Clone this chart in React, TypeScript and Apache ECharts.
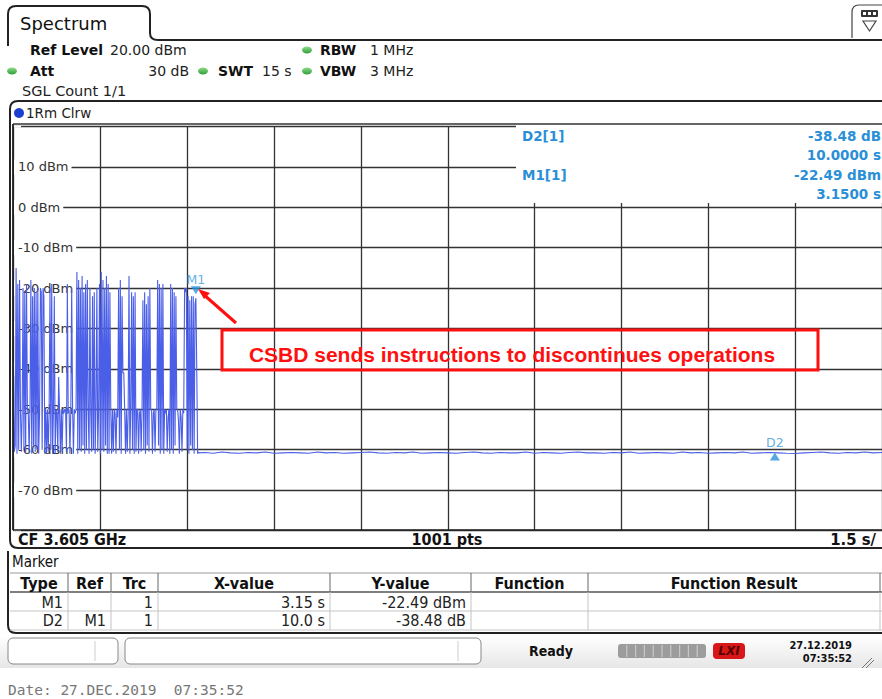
import React, { useEffect, useRef } from 'react';
import * as echarts from 'echarts';

// ---------------- data ----------------
const SWEEP_S = 15;
const SWEEP_PTS = 1001;
const DT = SWEEP_S / (SWEEP_PTS - 1);
const X_DIV = 1.5;
const Y_MIN = -80;
const Y_MAX = 20;
const Y_DIV = 10;

// trace samples 0..214 (0 s .. 3.21 s), dBm
const burstLevels = [
  -38, -60.5, -59,
  -15, -61, -19, -60, -18,
  -50, -60.5, -51,
  -20, -60, -21, -61, -19,
  -50, -51, -60.5, -50,
  -18, -61, -22, -59, -20, -60.5, -21,
  -60, -20, -61, -51,
  -20, -21, -60, -20, -22, -61,
  -50, -61, -50, -60.5, -51,
  -20, -60, -19, -61, -50, -22,
  -61, -50, -51, -60.5, -42, -50, -61, -50, -60.5, -50, -51,
  -50, -50, -60.5, -19, -51, -50, -61, -50, -20, -49, -61, -50, -51, -50,
  -16, -61, -18, -60, -20, -60.5, -17, -59, -21, -61, -19, -60,
  -18, -50, -61, -20, -51, -60.5,
  -22, -60, -21, -61, -50, -20, -60.5, -50,
  -19, -61, -16, -60, -18, -60.5, -20, -59, -17, -61, -19, -61, -21, -50,
  -61, -50, -60.5, -50, -51, -61, -50, -52,
  -20, -60, -18, -61, -22, -41,
  -41, -50, -61, -50, -60.5, -51,
  -17, -61, -50,
  -21, -60, -22, -61, -21, -60.5, -50,
  -50, -61, -51, -50, -60.5, -50,
  -23, -60, -21, -61, -24, -59, -22, -60.5, -20, -50,
  -50, -61, -51, -50, -60.5, -50, -50,
  -18, -59, -19, -61, -20, -60, -19, -61, -50, -51,
  -50, -60.5, -52, -50, -61,
  -19, -60, -20, -61, -21, -59, -22, -50,
  -50, -53, -61, -50, -52, -60.5, -50, -51,
  -20, -21, -20,
  -60, -22, -61, -23, -59, -22, -60, -22, -61, -24,
  -22.49,
  -40, -61, -60.6, -60.8,
];

// quiet part of the sweep, every 10th sample from sample 220 to 1000
const TAIL_START = 220;
const TAIL_STEP = 10;
const tailLevels = [
  -60.7, -60.9, -60.6, -60.8, -60.9, -60.7, -60.8, -60.6, -60.9, -60.8,
  -60.7, -60.8, -60.9, -60.6, -60.8, -60.7, -60.9, -60.8, -60.7, -60.6,
  -60.8, -60.9, -60.7, -60.8, -60.6, -60.9, -60.8, -60.7, -60.8, -60.9,
  -60.7, -60.6, -60.8, -60.9, -60.7, -60.8, -60.8, -60.6, -60.9, -60.7,
  -60.8, -60.9, -60.7, -60.6, -60.8, -60.8, -60.9, -60.7, -60.8, -60.6,
  -60.9, -60.8, -60.7, -60.8, -60.9, -60.6, -60.8, -60.7, -60.9, -60.8,
  -60.7, -60.8, -60.6, -60.9, -60.8, -60.7, -60.8, -60.9, -60.97, -60.8,
  -60.7, -60.6, -60.8, -60.9, -60.7, -60.8, -60.6, -60.8, -60.7,
];

const markerNames = ['M1', 'D2'];
const markerX = [3.15, 13.15];
const markerY = [-22.49, -60.97];

const readoutLabels = ['D2[1]', 'M1[1]'];
const readoutValues = [['-38.48 dB', '10.0000 s'], ['-22.49 dBm', '3.1500 s']];

const tableHeaders = ['Type', 'Ref', 'Trc', 'X-value', 'Y-value', 'Function', 'Function Result'];
const tableRows = [
  ['M1', '', '1', '3.15 s', '-22.49 dBm', '', ''],
  ['D2', 'M1', '1', '10.0 s', '-38.48 dB', '', ''],
];

const noteText = 'CSBD sends instructions to discontinues operations';

// ---------------- layout ----------------
const F = '"DejaVu Sans", Verdana, sans-serif';
const FC = '"DejaVu Sans Condensed", "DejaVu Sans", sans-serif';
const BLUE_TXT = '#2a8fd6';
const GRID = { left: 13.5, top: 126.6, width: 871.5, height: 403.8 };
const COLS = [10, 68, 111, 158, 330, 471, 588, 880];

echarts.graphic.registerShape(
  'tabShape',
  echarts.graphic.extendPath('M8,46 L8,14 Q8,6 16,6 L142,6 Q150,6 150,14 L150,33 Q150,40 158,40 L890,40', {})
);
echarts.graphic.registerShape(
  'traceWin',
  echarts.graphic.extendPath('M890,101 L18,101 Q10,101 10,109 L10,540 Q10,548 18,548 L890,548', {})
);
echarts.graphic.registerShape(
  'markerWin',
  echarts.graphic.extendPath('M8,551 L8,625 Q8,633 16,633 L890,633', {})
);
echarts.graphic.registerShape(
  'iconBox',
  echarts.graphic.extendPath('M852,38 L852,12 Q852,5 859,5 L890,5', {})
);

function txt(x: number, y: number, text: string, font: string, fill = '#111', align = 'left', z = 20): any {
  return {
    type: 'text',
    x,
    y,
    z,
    silent: true,
    style: { text, font, fill, textAlign: align, textVerticalAlign: 'middle' },
  };
}
function ln(x1: number, y1: number, x2: number, y2: number, stroke: string, lw = 1, z = 15): any {
  return { type: 'line', z, silent: true, shape: { x1, y1, x2, y2 }, style: { stroke, lineWidth: lw } };
}
function dot(cx: number, cy: number): any {
  return {
    type: 'ellipse',
    z: 20,
    silent: true,
    shape: { cx, cy, rx: 5, ry: 3.5 },
    style: {
      fill: new echarts.graphic.LinearGradient(0, 0, 0, 1, [
        { offset: 0, color: '#8fdc8a' },
        { offset: 1, color: '#2f9e3a' },
      ]),
    },
  };
}

function buildGraphics(): any[] {
  const g: any[] = [];
  // frames
  g.push({ type: 'tabShape', z: 15, silent: true, style: { fill: 'none', stroke: '#222', lineWidth: 2 } });
  g.push({ type: 'traceWin', z: 15, silent: true, style: { fill: 'none', stroke: '#222', lineWidth: 2 } });
  g.push({ type: 'markerWin', z: 15, silent: true, style: { fill: 'none', stroke: '#222', lineWidth: 2 } });
  g.push({ type: 'iconBox', z: 15, silent: true, style: { fill: 'none', stroke: '#444', lineWidth: 1.2 } });
  g.push({ type: 'rect', z: 16, silent: true, shape: { x: 861, y: 10, width: 17, height: 7, r: 1 }, style: { fill: '#333' } });
  g.push({ type: 'rect', z: 17, silent: true, shape: { x: 863, y: 12, width: 3, height: 3 }, style: { fill: '#fff' } });
  g.push({ type: 'rect', z: 17, silent: true, shape: { x: 868, y: 12, width: 3, height: 3 }, style: { fill: '#fff' } });
  g.push({ type: 'rect', z: 17, silent: true, shape: { x: 873, y: 12, width: 3, height: 3 }, style: { fill: '#fff' } });
  g.push({ type: 'polygon', z: 16, silent: true, shape: { points: [[863, 21], [876, 21], [869.5, 31]] }, style: { fill: 'none', stroke: '#444', lineWidth: 1.2 } });

  g.push(txt(20, 23, 'Spectrum', '18px ' + F, '#111'));

  // info rows
  g.push(txt(30, 50, 'Ref Level', 'bold 14px ' + F));
  g.push(txt(110, 50, '20.00 dBm', '14px ' + F, '#222'));
  g.push(dot(307, 50));
  g.push(txt(320, 50, 'RBW', 'bold 14px ' + F));
  g.push(txt(370, 50, '1 MHz', '14px ' + F, '#222'));
  g.push(dot(12, 71));
  g.push(txt(30, 71, 'Att', 'bold 14px ' + F));
  g.push(txt(189, 71, '30 dB', '14px ' + F, '#222', 'right'));
  g.push(dot(203, 71));
  g.push(txt(218, 71, 'SWT', 'bold 14px ' + F));
  g.push(txt(262, 71, '15 s', '14px ' + F, '#222'));
  g.push(dot(307, 71));
  g.push(txt(320, 71, 'VBW', 'bold 14px ' + F));
  g.push(txt(370, 71, '3 MHz', '14px ' + F, '#222'));
  g.push(txt(22, 91, 'SGL Count 1/1', '14.5px ' + F, '#222'));

  // trace header
  g.push({ type: 'circle', z: 20, silent: true, shape: { cx: 19, cy: 113, r: 5 }, style: { fill: '#1d3fd0' } });
  g.push(txt(26, 113, '1Rm Clrw', '13.5px ' + F, '#222'));
  g.push(ln(13, 124, 890, 124, '#333', 1.5));
  g.push(ln(13, 124, 13, 530, '#222', 1.8));
  g.push(ln(13, 530, 890, 530, '#222', 1.5));

  // marker readout box
  g.push({ type: 'rect', z: 12, silent: true, shape: { x: 516, y: 125, width: 370, height: 78 }, style: { fill: '#fff' } });
  g.push(txt(522, 136, readoutLabels[0], 'bold 13.5px ' + F, BLUE_TXT));
  g.push(txt(881, 136, readoutValues[0][0], 'bold 13.5px ' + F, BLUE_TXT, 'right'));
  g.push(txt(881, 155, readoutValues[0][1], 'bold 13.5px ' + F, BLUE_TXT, 'right'));
  g.push(txt(522, 175, readoutLabels[1], 'bold 13.5px ' + F, BLUE_TXT));
  g.push(txt(881, 175, readoutValues[1][0], 'bold 13.5px ' + F, BLUE_TXT, 'right'));
  g.push(txt(881, 194, readoutValues[1][1], 'bold 13.5px ' + F, BLUE_TXT, 'right'));

  // annotation
  g.push(ln(236, 323, 203, 294, '#ff1010', 3, 25));
  g.push({ type: 'polygon', z: 25, silent: true, shape: { points: [[198, 289], [210, 293], [204, 299]] }, style: { fill: '#ff1010' } });
  g.push({ type: 'rect', z: 25, silent: true, shape: { x: 222, y: 330, width: 596, height: 40 }, style: { fill: 'none', stroke: '#ff1010', lineWidth: 3 } });
  g.push(txt(512, 354, noteText, 'bold 21px "Liberation Sans", Arial, sans-serif', '#ff1010', 'center', 26));

  // bottom plot bar
  g.push(txt(18, 539, 'CF 3.605 GHz', 'bold 16px ' + FC));
  g.push(txt(447, 539, '1001 pts', 'bold 16px ' + FC, '#111', 'center'));
  g.push(txt(876, 539, '1.5 s/', 'bold 16.5px ' + FC, '#111', 'right'));

  // marker table
  g.push(txt(12, 562, 'Marker', '15px ' + FC, '#111'));
  g.push(ln(10, 573, 882, 573, '#999', 1));
  g.push(ln(10, 592, 882, 592, '#555', 1.5));
  g.push(ln(10, 611, 882, 611, '#c4c4c4', 1));
  g.push(ln(10, 630, 882, 630, '#c4c4c4', 1));
  for (let c = 1; c < COLS.length; c++) {
    g.push(ln(COLS[c], 573, COLS[c], 592, '#666', 1));
    g.push(ln(COLS[c], 592, COLS[c], 630, '#c4c4c4', 1));
  }
  tableHeaders.forEach((h, c) => {
    g.push(txt((COLS[c] + COLS[c + 1]) / 2, 583, h, 'bold 16px ' + FC, '#111', 'center'));
  });
  tableRows.forEach((row, r) => {
    row.forEach((cell, c) => {
      if (cell) g.push(txt(COLS[c + 1] - 5, 602 + r * 18.5, cell, '16px ' + FC, '#222', 'right'));
    });
  });

  // status bar
  g.push({
    type: 'rect', z: 10, silent: true, shape: { x: 0, y: 636, width: 890, height: 32 },
    style: {
      fill: new echarts.graphic.LinearGradient(0, 0, 0, 1, [
        { offset: 0, color: '#ffffff' },
        { offset: 1, color: '#e6e6e6' },
      ]),
    },
  });
  g.push({ type: 'rect', z: 15, silent: true, shape: { x: 8, y: 638, width: 110, height: 26, r: 5 }, style: { fill: '#fff', stroke: '#888', lineWidth: 1 } });
  g.push(ln(95, 641, 95, 661, '#ccc', 1, 16));
  g.push({ type: 'rect', z: 15, silent: true, shape: { x: 125, y: 638, width: 356, height: 26, r: 5 }, style: { fill: '#fff', stroke: '#888', lineWidth: 1 } });
  g.push(ln(458, 641, 458, 661, '#ccc', 1, 16));
  g.push(txt(551, 651, 'Ready', 'bold 14px ' + FC, '#111', 'center'));
  g.push({ type: 'rect', z: 15, silent: true, shape: { x: 618, y: 644, width: 88, height: 14, r: 3 }, style: { fill: '#9c9c9c' } });
  for (let k = 1; k < 10; k++) g.push(ln(618 + k * 8.8, 645, 618 + k * 8.8, 657, '#c8c8c8', 1.2, 16));
  g.push({ type: 'rect', z: 15, silent: true, shape: { x: 713, y: 643, width: 32, height: 16, r: 4 }, style: { fill: '#d81818' } });
  g.push(txt(729, 651, 'LXI', 'italic bold 12px ' + F, '#5a0000', 'center', 16));
  g.push(txt(852, 645, '27.12.2019', 'bold 11px ' + FC, '#111', 'right'));
  g.push(txt(852, 658, '07:35:52', 'bold 11px ' + FC, '#111', 'right'));
  g.push(ln(862, 668, 872, 658, '#777', 1));
  g.push(ln(866, 668, 874, 660, '#777', 1));

  g.push(txt(8, 690, 'Date: 27.DEC.2019  07:35:52', '14.5px "DejaVu Sans Mono", monospace', '#777'));
  return g;
}

export default function App() {
  const ref = useRef<HTMLDivElement>(null);
  useEffect(() => {
    if (!ref.current) return;
    const chart = echarts.init(ref.current, null, { renderer: 'svg' });
    const traceData: number[][] = [
      ...burstLevels.map((v, i) => [i * DT, v]),
      ...tailLevels.map((v, k) => [(TAIL_START + k * TAIL_STEP) * DT, v]),
    ];
    const markerData = markerNames.map((n, i) => ({
      name: n,
      value: [markerX[i], markerY[i]],
      symbol: i === 0 ? 'path://M0,0 L10,0 L5,8 Z' : 'triangle',
      symbolSize: [10, 8],
      symbolOffset: i === 0 ? [0, -8] : [0, 3],
      label: { distance: i === 0 ? 0 : 4 },
    }));
    const yLabelFmt = (v: number) => (v === Y_MAX || v === Y_MIN ? '' : v + ' dBm');
    chart.setOption({
      animation: false,
      backgroundColor: '#ffffff',
      grid: { left: GRID.left, top: GRID.top, width: GRID.width, height: GRID.height, containLabel: false },
      xAxis: {
        type: 'value', min: 0, max: SWEEP_S, interval: X_DIV,
        axisLine: { show: false }, axisTick: { show: false }, axisLabel: { show: false },
        splitLine: { show: true, lineStyle: { color: '#333', width: 1.3 } },
      },
      yAxis: [
        {
          type: 'value', min: Y_MIN, max: Y_MAX, interval: Y_DIV, z: 0,
          axisLine: { show: false }, axisTick: { show: false }, axisLabel: { show: false },
          splitLine: { show: true, lineStyle: { color: '#333', width: 1.3 } },
        },
        {
          type: 'value', min: Y_MIN, max: Y_MAX, interval: Y_DIV, z: 1, position: 'left',
          axisLine: { show: false }, axisTick: { show: false }, splitLine: { show: false },
          axisLabel: {
            show: true, inside: true, margin: 0.5, formatter: yLabelFmt,
            color: '#333', fontSize: 13, fontFamily: 'DejaVu Sans',
            backgroundColor: '#ffffff', padding: [1, 3, 1, 4],
          },
        },
      ],
      series: [
        {
          type: 'line', data: traceData, yAxisIndex: 0, showSymbol: false, symbol: 'none',
          lineStyle: { color: '#4a5ee8', width: 1.1 }, z: 2, silent: true,
        },
        {
          type: 'scatter', data: markerData, yAxisIndex: 0, z: 3, silent: true,
          itemStyle: { color: '#2a92da' },
          label: { show: true, position: 'top', formatter: '{b}', color: '#3a9ad8', fontSize: 12.5, fontFamily: 'DejaVu Sans' },
        },
      ],
      graphic: { elements: buildGraphics() },
    });
    return () => chart.dispose();
  }, []);
  return <div ref={ref} style={{ position: 'fixed', left: 0, top: 0, width: 882, height: 699 }} />;
}
